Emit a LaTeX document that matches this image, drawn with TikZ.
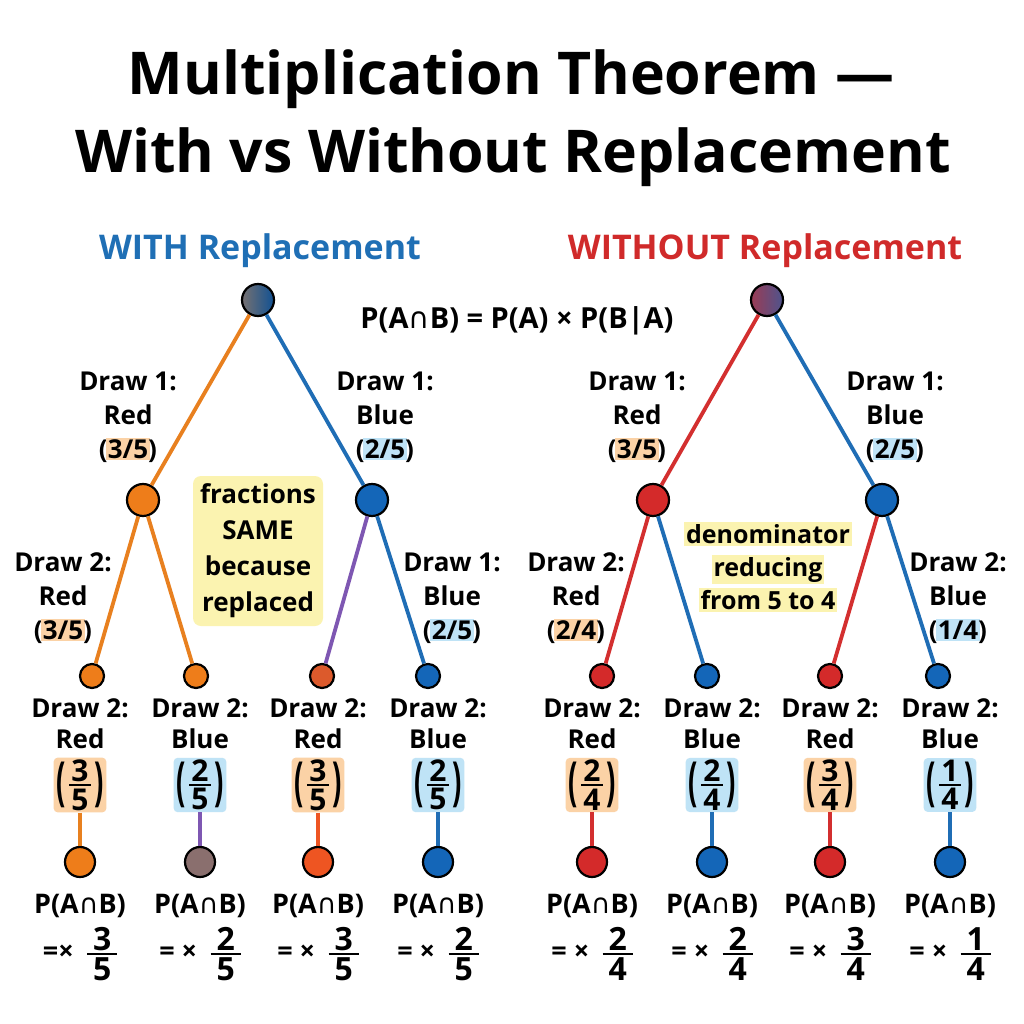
\documentclass[tikz,border=0pt]{standalone}
\usepackage{fontspec}
\usepackage{amsmath}
\usepackage{graphicx}
\setmainfont{Open Sans}
\newfontfamily\symf{DejaVu Sans}
\definecolor{tOrange}{HTML}{E8801F}
\definecolor{tBlue}{HTML}{1F6DB5}
\definecolor{tRed}{HTML}{D32F2F}
\definecolor{tPurple}{HTML}{7E57B2}
\definecolor{cOrange}{HTML}{EE7D1A}
\definecolor{cBlue}{HTML}{1466B8}
\definecolor{cRed}{HTML}{D42A2A}
\definecolor{cRedOr}{HTML}{DC5A2C}
\definecolor{cOrRed}{HTML}{EE5522}
\definecolor{cGray}{HTML}{8A6F6E}
\definecolor{hlO}{HTML}{FBD2A6}
\definecolor{hlB}{HTML}{BFE3F6}
\definecolor{ylw}{HTML}{FBF3B0}
\definecolor{subBlue}{HTML}{1F6FB5}
\definecolor{subRed}{HTML}{D02A2A}
\newcommand\capsym{{\symf\mdseries ∩}}
\newcommand\pab{P(A\capsym B)}
\newcommand\hlo[1]{{\setlength\fboxsep{1.5pt}\kern-1.5pt\colorbox{hlO}{#1}\kern-1.5pt}}
\newcommand\hlb[1]{{\setlength\fboxsep{1.5pt}\kern-1.5pt\colorbox{hlB}{#1}\kern-1.5pt}}
\newcommand\hly[1]{{\setlength\fboxsep{2pt}\colorbox{ylw}{#1}}}
\newcommand\paren[1]{\raisebox{-0.33em}{\scalebox{1.1}[2.1]{#1}}}
% vertical fraction: #1 width, #2 rule, #3 digit size, #4 num, #5 den
\newcommand\vfr[5]{$\vcenter{\hbox to #1{\hss\fontsize{#3}{#3}\selectfont#4\hss}\kern2.5pt\hrule height #2\kern3pt\hbox to #1{\hss\fontsize{#3}{#3}\selectfont#5\hss}}$}
\newcommand\bfr[2]{\paren{(}\kern3pt\vfr{22pt}{1.5pt}{30}{#1}{#2}\kern3pt\paren{)}}
\newcommand\efr[2]{\vfr{30pt}{1.7pt}{32}{#1}{#2}}
\tikzset{
  dot/.style={circle, draw=black, line width=2.2pt, minimum size=#1, inner sep=0pt},
  lbl/.style={align=center, inner sep=0pt, font=\bfseries\fontsize{26}{34}\selectfont},
  btxt/.style={align=center, inner sep=0pt, font=\bfseries\fontsize{26}{31}\selectfont},
  fracbox/.style={rounded corners=4pt, inner xsep=3pt, inner ysep=2pt, font=\bfseries\fontsize{25}{30}\selectfont},
  br/.style={line width=3.8pt},
  stem/.style={line width=3.2pt},
  eqtxt/.style={inner sep=0pt, font=\bfseries\fontsize{27}{32}\selectfont},
  ttl/.style={anchor=base, inner sep=0pt, font=\bfseries\fontsize{59}{70}\selectfont},
}
\begin{document}
\begin{tikzpicture}[x=1pt,y=-1pt]
\useasboundingbox[fill=white] (0,0) rectangle (1024,1024);
% titles
\node[ttl] (t1) at (511,95) {Multiplication Theorem —};
\node[ttl] (t2) at (513,173) {With vs Without Replacement};
\node[anchor=base, inner sep=0pt, text=subBlue, font=\bfseries\fontsize{34}{40}\selectfont] (s1) at (260,259) {WITH Replacement};
\node[anchor=base, inner sep=0pt, text=subRed, font=\bfseries\fontsize{34}{40}\selectfont] (s2) at (765,259) {WITHOUT Replacement};
\node[anchor=base, inner sep=0pt, font=\bfseries\fontsize{29}{34}\selectfont] (formula) at (517,328) {\pab{} = P(A) × P(B|A)};

% ===== LEFT TREE =====
\node[dot=32, left color=cOrange!45!cBlue, right color=cBlue!80!black] (Lr) at (258,300) {};
\node[dot=32, fill=cOrange] (La) at (143,500) {};
\node[dot=32, fill=cBlue] (Lb) at (372,500) {};
\node[dot=24, fill=cOrange] (Laa) at (92,676) {};
\node[dot=24, fill=cOrange] (Lab) at (196,676) {};
\node[dot=24, fill=cRedOr] (Lba) at (322,676) {};
\node[dot=24, fill=cBlue] (Lbb) at (428,676) {};
\draw[br, tOrange] (Lr) -- (La);
\draw[br, tBlue] (Lr) -- (Lb);
\draw[br, tOrange] (La) -- (Laa);
\draw[br, tOrange] (La) -- (Lab);
\draw[br, tPurple] (Lb) -- (Lba);
\draw[br, tBlue] (Lb) -- (Lbb);
\node[lbl] (lLa) at (128,417) {Draw 1:\\Red\\(\hlo{3/5})};
\node[lbl] (lLb) at (385,417) {Draw 1:\\Blue\\(\hlb{2/5})};
\node[lbl] (lLaa) at (63,598) {Draw 2:\\Red\\(\hlo{3/5})};
\node[lbl] (lLbb) at (452,598) {Draw 1:\\Blue\\(\hlb{2/5})};
\node[fill=ylw, rounded corners=8pt, minimum width=130pt, minimum height=150pt, align=center, inner sep=2pt, font=\bfseries\fontsize{26}{36}\selectfont] (noteL) at (258,551) {fractions\\SAME\\because\\replaced};

% left bottom columns
\foreach \n/\x/\c/\hl/\num/\den/\stc/\lc/\eq in {
  1/80/Red/hlO/3/5/tOrange/cOrange/{=×},
  2/200/Blue/hlB/2/5/tPurple/cGray/{= ×},
  3/318/Red/hlO/3/5/cOrRed/cOrRed/{= ×},
  4/438/Blue/hlB/2/5/tBlue/cBlue/{= ×}} {
  \node[btxt] (Ld\n) at (\x,724) {Draw 2:\\\c};
  \node[fracbox, fill=\hl] (Lf\n) at (\x,785) {\bfr{\num}{\den}};
  \node[dot=30, fill=\lc] (Ll\n) at (\x,862) {};
  \draw[stem, \stc] (Lf\n) -- (Ll\n);
  \node[eqtxt] (Lp\n) at (\x,906) {\pab};
  \node[eqtxt] (Le\n) at (\x,954) {\eq\enspace\efr{\num}{\den}};
}

% ===== RIGHT TREE =====
\node[dot=32, left color=cRed!70!cBlue, right color=cBlue!70!cRed] (Rr) at (767,300) {};
\node[dot=32, fill=cRed] (Ra) at (653,500) {};
\node[dot=32, fill=cBlue] (Rb) at (882,500) {};
\node[dot=24, fill=cRed] (Raa) at (602,676) {};
\node[dot=24, fill=cBlue] (Rab) at (707,676) {};
\node[dot=24, fill=cRed] (Rba) at (830,676) {};
\node[dot=24, fill=cBlue] (Rbb) at (938,676) {};
\draw[br, tRed] (Rr) -- (Ra);
\draw[br, tBlue] (Rr) -- (Rb);
\draw[br, tRed] (Ra) -- (Raa);
\draw[br, tBlue] (Ra) -- (Rab);
\draw[br, tRed] (Rb) -- (Rba);
\draw[br, tBlue] (Rb) -- (Rbb);
\node[lbl] (lRa) at (637,417) {Draw 1:\\Red\\(\hlo{3/5})};
\node[lbl] (lRb) at (895,417) {Draw 1:\\Blue\\(\hlb{2/5})};
\node[lbl] (lRaa) at (576,598) {Draw 2:\\Red\\(\hlo{2/4})};
\node[lbl] (lRbb) at (958,598) {Draw 2:\\Blue\\(\hlb{1/4})};
\node[align=center, inner sep=0pt, font=\bfseries\fontsize{25}{33}\selectfont] (noteR) at (768,567) {\hly{denominator}\\\hly{reducing}\\\hly{from 5 to 4}};

\foreach \n/\x/\c/\hl/\num/\den/\stc/\lc in {
  1/592/Red/hlO/2/4/tRed/cRed,
  2/712/Blue/hlB/2/4/tBlue/cBlue,
  3/830/Red/hlO/3/4/tRed/cRed,
  4/950/Blue/hlB/1/4/tBlue/cBlue} {
  \node[btxt] (Rd\n) at (\x,724) {Draw 2:\\\c};
  \node[fracbox, fill=\hl] (Rf\n) at (\x,785) {\bfr{\num}{\den}};
  \node[dot=30, fill=\lc] (Rl\n) at (\x,862) {};
  \draw[stem, \stc] (Rf\n) -- (Rl\n);
  \node[eqtxt] (Rp\n) at (\x,906) {\pab};
  \node[eqtxt] (Re\n) at (\x,954) {= ×\enspace\efr{\num}{\den}};
}
\end{tikzpicture}
\end{document}
